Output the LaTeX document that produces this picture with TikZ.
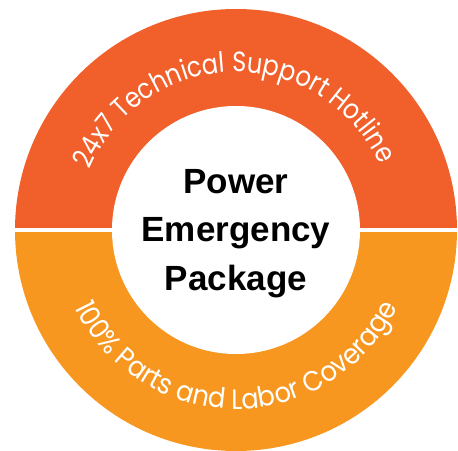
\documentclass[tikz,border=0pt]{standalone}
\usepackage{fontspec}
\setmainfont{Liberation Sans}
\newfontfamily\arcfont[FakeStretch=0.86]{Poppins}
\newfontfamily\arcfontwide[FakeStretch=0.92]{Poppins}
\usetikzlibrary{decorations.text}
\definecolor{topring}{HTML}{F15F2A}
\definecolor{botring}{HTML}{F7971F}
\tikzset{
  arclabel/.style={decorate, decoration={text along path, text align=center,
    text color=white}},
}
\begin{document}
\begin{tikzpicture}[x=1pt,y=1pt]
\useasboundingbox (-236,-220) rectangle (222,230);
\clip (-236,-220) rectangle (222,230);
\fill[white] (-236,-220) rectangle (222,230);
% ring halves
\fill[topring] (221,0) arc[start angle=0, end angle=180, radius=221] -- cycle;
\fill[botring] (-221,0) arc[start angle=180, end angle=360, radius=221] -- cycle;
% divider
\fill[white] (-225,-1.6) rectangle (225,1.6);
% centre disc
\fill[white] (0,0) circle[radius=124];
% arc texts
\begin{scope}
\arcfont\fontsize{28}{28}\selectfont
\path[arclabel, decoration={text={24x7 Technical Support Hotline}}]
  (181:158) arc[start angle=181, end angle=1, radius=158];
\end{scope}
\begin{scope}
\arcfontwide\fontsize{28}{28}\selectfont
\path[arclabel, decoration={text={100{\%} Parts and Labor Coverage}}]
  (180:179) arc[start angle=180, end angle=360, radius=179];
\end{scope}
% centre label
\node[font=\bfseries\fontsize{35}{48.5}\selectfont, align=center, text=black,
  anchor=base] (title) at (0,-60) {Power\\Emergency\\Package};
\end{tikzpicture}
\end{document}
